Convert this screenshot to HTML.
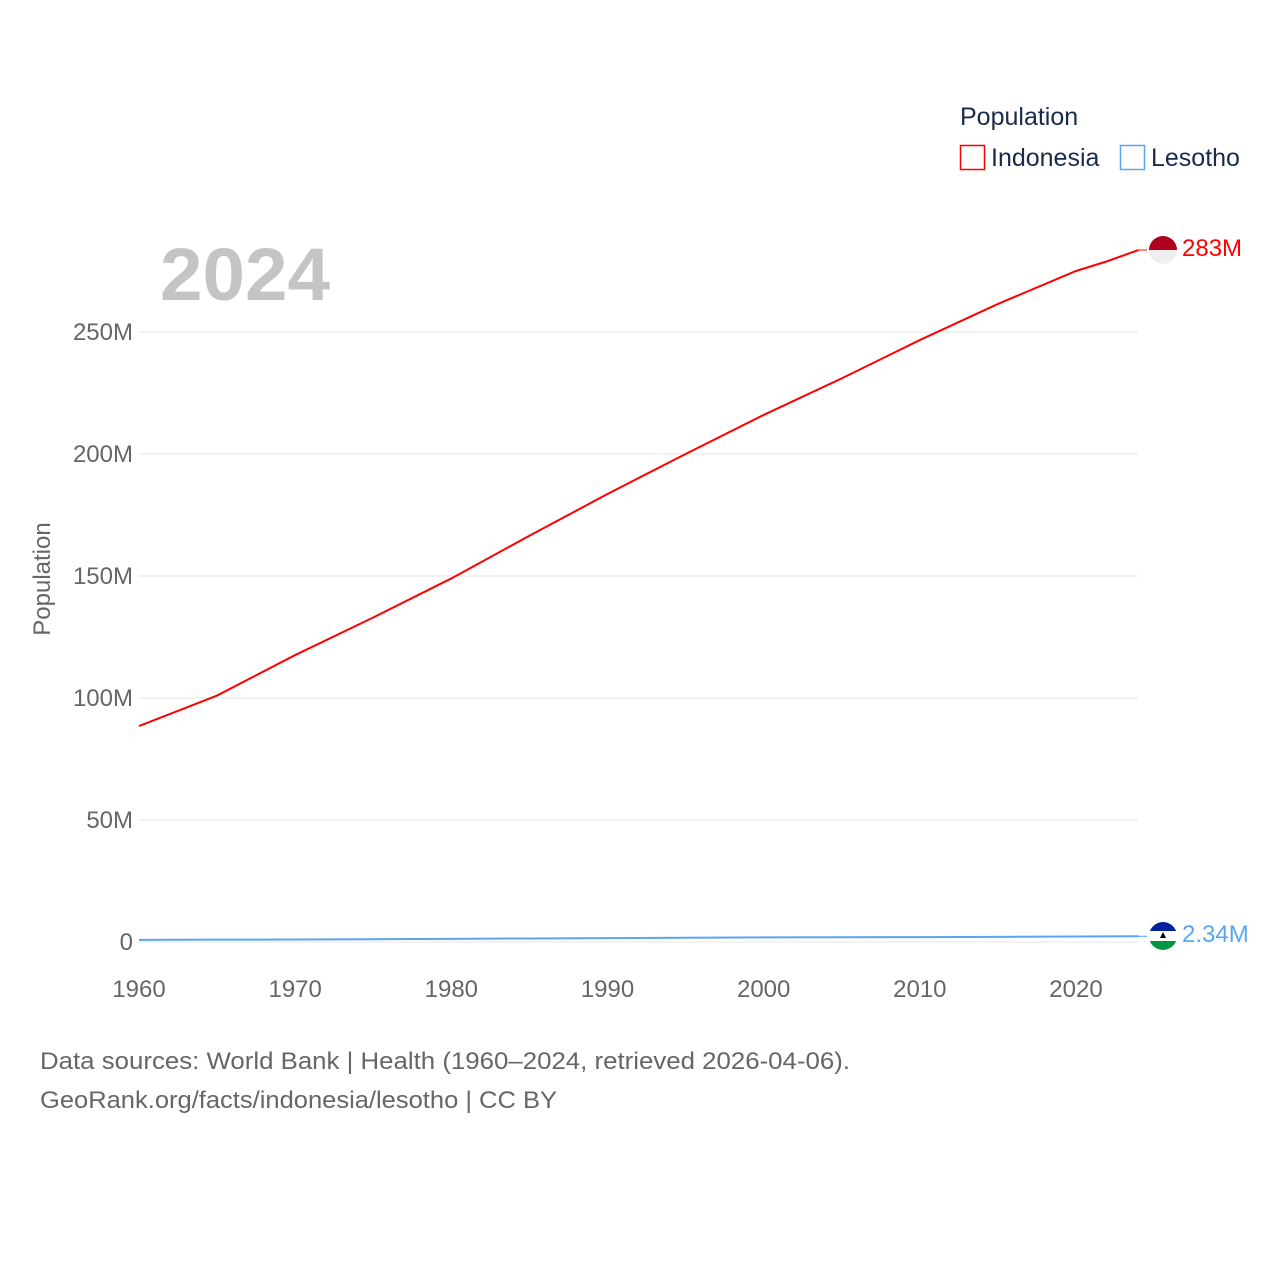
<!DOCTYPE html>
<html><head><meta charset="utf-8"><style>
body{margin:0;background:#fff;font-family:"Liberation Sans",sans-serif;}
svg text{font-family:"Liberation Sans",sans-serif;}
</style></head><body>
<svg id="chart" width="1280" height="1280">
<g>
<text x="960" y="125" font-size="25" fill="#1a2a4a">Population</text>
<rect x="960.5" y="145.5" width="24" height="24" fill="none" stroke="#ff0000" stroke-width="1.5"/>
<text x="991" y="166" font-size="25" fill="#1a2a4a">Indonesia</text>
<rect x="1120.5" y="145.5" width="24" height="24" fill="none" stroke="#5aa5f0" stroke-width="1.5"/>
<text x="1151" y="166" font-size="25" fill="#1a2a4a">Lesotho</text>
</g>
<text x="160" y="300" font-size="74" font-weight="bold" fill="#c4c4c4" textLength="170" lengthAdjust="spacingAndGlyphs">2024</text>
<text transform="translate(50,579) rotate(-90)" text-anchor="middle" font-size="24" fill="#666">Population</text>
<g id="grid"></g><g id="xt"></g><g id="lines"></g>
<g>
<clipPath id="ci"><circle cx="1163" cy="250" r="14"/></clipPath>
<g clip-path="url(#ci)"><rect x="1149" y="236" width="28" height="14" fill="#b00020"/><rect x="1149" y="250" width="28" height="14" fill="#eeeeee"/></g>
</g>
<g>
<clipPath id="cl"><circle cx="1163" cy="936" r="14"/></clipPath>
<g clip-path="url(#cl)"><rect x="1149" y="922" width="28" height="9" fill="#00209f"/><rect x="1149" y="931" width="28" height="10" fill="#fff"/><rect x="1149" y="941" width="28" height="9" fill="#009543"/>
<path d="M1160 938 L1163 932 L1166 938 Z" fill="#000"/></g>
</g>
<text x="1182" y="256" font-size="24" fill="#ff0000">283M</text>
<text x="1182" y="942" font-size="24" fill="#5aa5f0">2.34M</text>
<text x="40" y="1069" font-size="24" fill="#666" textLength="810" lengthAdjust="spacingAndGlyphs">Data sources: World Bank | Health (1960–2024, retrieved 2026-04-06).</text>
<text x="40" y="1108" font-size="24" fill="#666" textLength="517" lengthAdjust="spacingAndGlyphs">GeoRank.org/facts/indonesia/lesotho | CC BY</text>
</svg>
<script>
const years=[1960,1965,1970,1975,1980,1985,1990,1995,2000,2005,2010,2015,2020,2022,2024];
const indonesia=[88.5,101,117.6,133,149,166.5,183.6,200,216,231,246.7,261.5,275,279,283.6];
const lesotho=[0.85,0.95,1.03,1.15,1.3,1.45,1.6,1.75,1.9,1.95,2.0,2.1,2.25,2.3,2.34];
const yTicks=[0,50,100,150,200,250];
const yTickLabels=["0","50M","100M","150M","200M","250M"];
const xTicks=[1960,1970,1980,1990,2000,2010,2020];
const X=y=>139+(y-1960)*(1076-139)/60;
const Y=v=>942-v*(942-332)/250;
const NS="http://www.w3.org/2000/svg";
function mk(t,a,p){const e=document.createElementNS(NS,t);for(const k in a)e.setAttribute(k,a[k]);p.appendChild(e);return e;}
const g=document.getElementById('grid');
yTicks.forEach((v,i)=>{
 const l=mk('line',{x1:139,x2:1138,y1:Y(v),y2:Y(v),stroke:'#e6e6e6','stroke-width':1},g);
 
 
 const t=mk('text',{x:133,y:Y(v)+8,'text-anchor':'end','font-size':24,fill:'#666'},g);
 t.textContent=yTickLabels[i];
 
 
});
const xt=document.getElementById('xt');
xTicks.forEach(v=>{
 const t=mk('text',{x:X(v),y:997,'text-anchor':'middle','font-size':24,fill:'#666'},xt);
 t.textContent=v;
 
 
});
const lg=document.getElementById('lines');
function line(d,c,n){
 const p=mk('path',{d:years.map((y,i)=>(i?'L':'M')+X(y)+' '+Y(d[i])).join(' '),fill:'none',stroke:c,'stroke-width':2},lg);
 
 
 const last=d[d.length-1];
 mk('line',{x1:X(2024),x2:1147,y1:Y(last),y2:Y(last),stroke:c,'stroke-width':1},lg);
}
line(indonesia,'#ff0000','line-indonesia');
line(lesotho,'#5aa5f0','line-lesotho');
</script>
</body></html>
